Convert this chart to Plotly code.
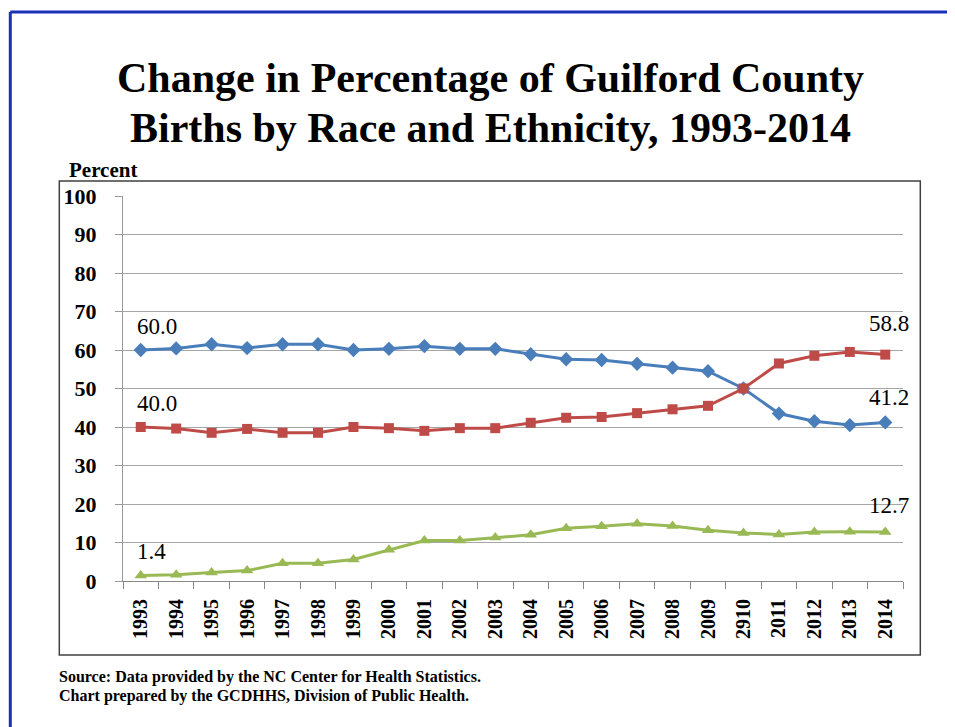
import plotly.graph_objects as go

years = ["1993", "1994", "1995", "1996", "1997", "1998", "1999", "2000", "2001", "2002", "2003",
         "2004", "2005", "2006", "2007", "2008", "2009", "2910", "2011", "2012", "2013", "2014"]
series_a = [60.0, 60.4, 61.5, 60.5, 61.5, 61.5, 60.0, 60.3, 61.0, 60.3, 60.3,
            58.9, 57.6, 57.4, 56.4, 55.4, 54.5, 50.0, 43.5, 41.5, 40.5, 41.2]
series_b = [40.0, 39.6, 38.5, 39.5, 38.5, 38.5, 40.0, 39.7, 39.0, 39.7, 39.7,
            41.1, 42.4, 42.6, 43.6, 44.6, 45.5, 50.0, 56.5, 58.5, 59.5, 58.8]
series_c = [1.4, 1.6, 2.2, 2.7, 4.6, 4.6, 5.6, 8.1, 10.5, 10.5, 11.3,
            12.0, 13.7, 14.2, 14.9, 14.3, 13.2, 12.5, 12.1, 12.7, 12.8, 12.7]
y_ticks = [0, 10, 20, 30, 40, 50, 60, 70, 80, 90, 100]

title_lines = ["Change in Percentage of Guilford County",
               "Births by Race and Ethnicity, 1993-2014"]
source_lines = ["Source: Data provided by the NC Center for Health Statistics.",
                "Chart prepared by the GCDHHS, Division of Public Health."]

SERIF = "Liberation Serif, Times New Roman, serif"

xi = list(range(len(years)))
bounds = [i - 0.5 for i in range(len(years) + 1)]

fig = go.Figure()
styles = [
    (series_a, "#4A7EBB", "diamond", 11),
    (series_b, "#BE4B48", "square", 10),
    (series_c, "#98B954", "triangle-up", 11),
]
for vals, col, sym, sz in styles:
    fig.add_trace(go.Scatter(
        x=xi, y=vals, mode="lines+markers",
        line=dict(color=col, width=3),
        marker=dict(symbol=sym, size=sz, color=col),
        showlegend=False, hoverinfo="skip"))

# data labels for first and last points
label_font = dict(family=SERIF, size=23, color="#000000")
first_shift = [24, 24, 24]
last_shift = [25, 31, 27]
for i, (vals, col, sym, sz) in enumerate(styles):
    fig.add_annotation(x=xi[0], y=vals[0], xref="x", yref="y",
                       text=f"{vals[0]:.1f}", showarrow=False, font=label_font,
                       xanchor="left", yanchor="middle", xshift=-6, yshift=first_shift[i])
    fig.add_annotation(x=xi[-1], y=vals[-1], xref="x", yref="y",
                       text=f"{vals[-1]:.1f}", showarrow=False, font=label_font,
                       xanchor="right", yanchor="middle", xshift=26, yshift=last_shift[i])

OFF = 8  # page offset of the figure in the browser
W, H = 955 - OFF, 727
# plot area in screen pixels
SX0, SX1, SY0, SY1 = 122.7, 902.7, 196, 581
L = SX0 - OFF
R = W - (SX1 - OFF)
T = SY0 - OFF
B = H - (SY1 - OFF)
pw, ph = SX1 - SX0, SY1 - SY0

def px(xs):
    return (xs - SX0) / pw

def py(ys):
    return (SY1 - ys) / ph

# title
for k, yy in enumerate([78, 128]):
    fig.add_annotation(x=px(490), y=py(yy), xref="paper", yref="paper", text=f"<b>{title_lines[k]}</b>",
                       showarrow=False, font=dict(family=SERIF, size=42, color="#000"),
                       xanchor="center", yanchor="middle")
# axis title
fig.add_annotation(x=px(67), y=py(170), xref="paper", yref="paper", text="<b>Percent</b>",
                   showarrow=False, font=dict(family=SERIF, size=21, color="#000"),
                   xanchor="left", yanchor="middle")
# source
for k, yy in enumerate([677, 696]):
    fig.add_annotation(x=px(58), y=py(yy), xref="paper", yref="paper", text=f"<b>{source_lines[k]}</b>",
                       showarrow=False, font=dict(family=SERIF, size=16, color="#000"),
                       xanchor="left", yanchor="middle", borderpad=0)

# inner chart box
fig.add_shape(type="rect", xref="paper", yref="paper",
              x0=px(59), x1=px(920), y0=py(655), y1=py(181),
              line=dict(color="#404040", width=1.5), layer="below")
# blue frame
fig.add_shape(type="line", xref="paper", yref="paper",
              x0=px(10), x1=px(970), y0=py(12), y1=py(12),
              line=dict(color="#1a30b8", width=3))
fig.add_shape(type="line", xref="paper", yref="paper",
              x0=px(10), x1=px(10), y0=py(12), y1=py(740),
              line=dict(color="#1a30b8", width=3))

fig.update_layout(
    width=W, height=H,
    margin=dict(l=L, r=R, t=T, b=B),
    paper_bgcolor="white", plot_bgcolor="white",
    showlegend=False,
    xaxis=dict(range=[-0.5, len(years) - 0.5], tickvals=xi, ticktext=years,
               tickangle=-90, ticks="", showgrid=False, zeroline=False,
               showline=True, linecolor="#888888", linewidth=1,
               tickfont=dict(family=SERIF, size=20, color="#000", weight="bold"),
               minor=dict(tickvals=bounds, ticks="outside", ticklen=7, tickcolor="#888888",
                          showgrid=False),
               automargin=False, ticklabelstandoff=9),
    yaxis=dict(range=[0, 100], tickvals=y_ticks, ticks="outside", ticklen=7,
               tickcolor="#999999", showgrid=True, gridcolor="#A6A6A6", gridwidth=1,
               showline=True, linecolor="#999999", linewidth=1, zeroline=False,
               tickfont=dict(family=SERIF, size=22, color="#000", weight="bold"),
               automargin=False, ticklabelstandoff=14),
)

fig.write_html("out.html")
